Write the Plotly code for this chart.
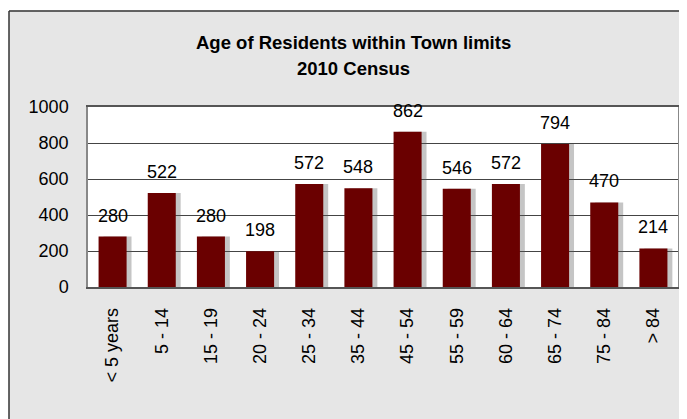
import plotly.graph_objects as go

categories = ["< 5 years", "5 - 14", "15 - 19", "20 - 24", "25 - 34", "35 - 44",
              "45 - 54", "55 - 59", "60 - 64", "65 - 74", "75 - 84", "> 84"]
residents = [280, 522, 280, 198, 572, 548, 862, 546, 572, 794, 470, 214]
y_ticks = [0, 200, 400, 600, 800, 1000]

# page has an 8px body margin, so the figure is drawn 8px in from the top-left
OFF = 8
W, H = 687 - OFF, 419 - OFF
L, R, T, B = 88 - OFF, 9, 107 - OFF, 132
pw, ph = W - L - R, H - T - B

BAR_COLOR = "#6a0000"
BAR_W = 0.57
FONT = "Liberation Sans, Arial"

fig = go.Figure()
# soft shadow behind bars
fig.add_trace(go.Bar(
    x=categories, y=residents, width=BAR_W, offset=-BAR_W / 2 + 0.1,
    marker=dict(color="rgba(90,90,90,0.35)", line=dict(width=0)),
    hoverinfo="skip", showlegend=False))
fig.add_trace(go.Bar(
    x=categories, y=residents, width=BAR_W, offset=-BAR_W / 2,
    marker=dict(color=BAR_COLOR, line=dict(width=0)),
    showlegend=False))

annotations = []
for c, v in zip(categories, residents):
    annotations.append(dict(
        x=c, y=v, xref="x", yref="y", text=str(v), showarrow=False,
        yanchor="middle", yshift=21,
        font=dict(family=FONT, size=18, color="#000")))


def px_x(px):
    """page pixel x -> paper fraction"""
    return (px - OFF - L) / pw


def px_y(py):
    """page pixel y -> paper fraction"""
    return (H - B - (py - OFF)) / ph


for text, ypx in [("<b>Age of Residents within Town limits</b>", 43),
                  ("<b>2010 Census</b>", 68)]:
    annotations.append(dict(
        x=px_x(353), y=px_y(ypx), xref="paper", yref="paper",
        text=text, showarrow=False, yanchor="middle", xanchor="center",
        font=dict(family=FONT, size=18.5, color="#000")))

shapes = [
    # white outside the framed region (top and left strips)
    dict(type="rect", xref="paper", yref="paper", x0=px_x(0), x1=px_x(W + 20),
         y0=px_y(10.5), y1=px_y(0), fillcolor="white", line=dict(width=0), layer="below"),
    dict(type="rect", xref="paper", yref="paper", x0=px_x(0), x1=px_x(9),
         y0=px_y(H + 20), y1=px_y(0), fillcolor="white", line=dict(width=0), layer="below"),
    # outer frame lines
    dict(type="line", xref="paper", yref="paper", x0=px_x(9), x1=px_x(W + 20),
         y0=px_y(11), y1=px_y(11), line=dict(color="#333", width=1.5)),
    dict(type="line", xref="paper", yref="paper", x0=px_x(9), x1=px_x(9),
         y0=px_y(11), y1=px_y(H + 20), line=dict(color="#333", width=1.5)),
]

fig.update_layout(
    width=W, height=H,
    margin=dict(l=L, r=R, t=T, b=B, autoexpand=False),
    paper_bgcolor="#e6e6e6",
    plot_bgcolor="white",
    barmode="overlay",
    shapes=shapes,
    annotations=annotations,
    xaxis=dict(
        type="category", tickangle=-90, showgrid=False, automargin=False,
        ticks="", ticklabelstandoff=12,
        showline=True, linecolor="#555", linewidth=1.5, mirror=True,
        tickfont=dict(family=FONT, size=18, color="#000"),
    ),
    yaxis=dict(
        range=[0, 1000], tickvals=y_ticks, ticktext=[str(t) for t in y_ticks],
        showgrid=True, gridcolor="#444", gridwidth=1, automargin=False,
        ticks="", ticklabelstandoff=14, zeroline=False,
        showline=True, linecolor="#888", linewidth=1.5, mirror=True,
        tickfont=dict(family=FONT, size=18, color="#000"),
    ),
)

fig.write_html("out.html")
